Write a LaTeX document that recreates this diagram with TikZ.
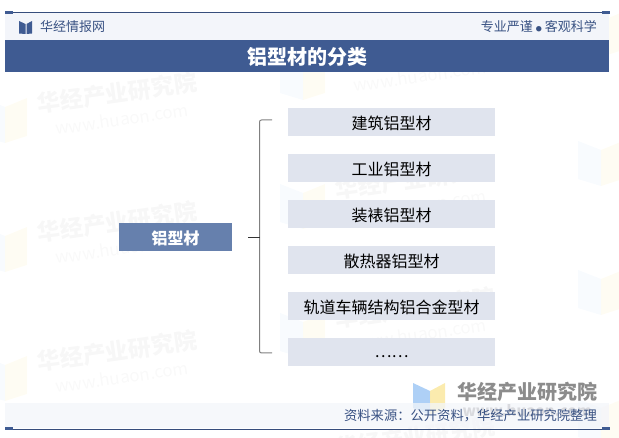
\documentclass[tikz,border=0pt]{standalone}
\usepackage{fontspec}
\setmainfont{Noto Sans CJK SC}
\usetikzlibrary{matrix,positioning}
\definecolor{azulfaixa}{RGB}{63,91,146}
\definecolor{azulbloco}{RGB}{102,128,173}
\definecolor{azulfundo}{RGB}{243,245,250}
\definecolor{cinzabloco}{RGB}{224,228,238}
\definecolor{azulmarca}{RGB}{160,200,245}
\definecolor{amarelomarca}{RGB}{250,232,160}
\tikzset{%
  filete/.style={draw=azulfaixa!85!black,semithick},
  pontafilete/.style={fill=azulfaixa,draw=none,minimum width=8pt,minimum height=3pt,inner sep=0pt},
  faixa/.style={fill=azulfundo,draw=none},
  titulo/.style={fill=azulfaixa,text=white,font=\fontsize{20}{22}\selectfont\bfseries,minimum width=604pt,minimum height=32pt,inner sep=0pt,text height=17pt,text depth=0pt},
  cabecalho/.style={text=azulfaixa!90!black,font=\fontsize{13}{15}\selectfont,inner sep=0pt},
  bloco/.style={fill=cinzabloco,text=black,font=\fontsize{16}{18}\selectfont,minimum width=207pt,minimum height=28pt,inner sep=0pt,text height=15pt,text depth=0pt},
  raiz/.style={fill=azulbloco,text=white,font=\fontsize{16}{18}\selectfont\bfseries,minimum width=113pt,minimum height=28pt,inner sep=0pt,text height=15pt,text depth=0pt},
  chave/.style={draw=black!50,line width=1pt,rounded corners=2pt},
  pontachave/.style={draw=black!80,semithick},
  marca/.pic={
    \fill[azulmarca,opacity=0.08] (-135,5) -- (-112,14) -- (-112,50) -- (-135,43) -- cycle;
    \fill[amarelomarca,opacity=0.12] (-112,14) -- (-90,5) -- (-90,43) -- (-112,50) -- cycle;
    \node[rotate=8,text=black,opacity=0.03,font=\fontsize{23}{25}\selectfont\bfseries,inner sep=0pt] at (0,0) {华经产业研究院};
    \node[rotate=8,text=black,opacity=0.025,font=\fontsize{17}{19}\selectfont,inner sep=0pt] at (5,26) {www.huaon.com};
  }
}
\begin{document}
\begin{tikzpicture}[x=1pt,y=-1pt]
  \useasboundingbox (0,0) rectangle (619,438);
  % marcas de fundo
  \foreach \px/\py in {117/93,117/222,117/351,415/50,415/179,415/308,415/437,713/7,713/136,713/265,713/394}
    \pic at (\px,\py) {marca};
  % topo
  \fill[faixa] (5,12) rectangle (609,40);
  \coordinate (filetea) at (5,12.5);
  \coordinate (fileteb) at (609,12.5);
  \draw[filete] (filetea) -- (fileteb);
  \node[pontafilete] at (9,12.5) (pontaa) {};
  \node[pontafilete] at (606,12.5) (pontab) {};
  \fill[azulfaixa] (19,21) -- (25.5,24) -- (25.5,34) -- (19,33.5) -- cycle;
  \fill[azulfaixa] (32,21) -- (26.5,24) -- (26.5,34) -- (32,33.5) -- cycle;
  \node[cabecalho,anchor=west] at (40,27) (site) {华经情报网};
  \node[cabecalho,anchor=east] at (597,27) (lema) {专业严谨\hspace{3pt}{\fontsize{6}{6}\selectfont ●}\hspace{3pt}客观科学};
  \node[titulo,anchor=north west] at (5,40) (cab) {铝型材的分类};
  % rodape
  \fill[azulmarca,opacity=0.85] (413,383) -- (430,391) -- (430,415) -- (413,408) -- cycle;
  \fill[amarelomarca,opacity=0.85] (430,391) -- (445,383) -- (445,408) -- (430,415) -- cycle;
  \node[text=black!45,font=\fontsize{20}{22}\selectfont\bfseries,inner sep=0pt,anchor=east] at (598,392) (marcanome) {华经产业研究院};
  \node[text=black!45,font=\fontsize{15}{17}\selectfont\bfseries,inner sep=0pt,anchor=east] at (592,411) (marcasite) {www.huaon.com};
  \fill[faixa,opacity=0.75] (5,403) rectangle (609,428);
  \node[cabecalho,anchor=east,font=\fontsize{13.3}{15}\selectfont] at (597,416) (fonte) {资料来源：公开资料，华经产业研究院整理};
  \coordinate (filetec) at (5,429);
  \coordinate (fileted) at (609,429);
  \draw[filete] (filetec) -- (fileted);
  \node[pontafilete] at (9,429) (pontac) {};
  \node[pontafilete] at (606,429) (pontad) {};
  % blocos
  \matrix (A) [matrix of nodes,row sep=18pt,inner sep=0pt,outer sep=0pt,anchor=north west,nodes={bloco}] at (288,108)
  {
    |(construcao)| 建筑铝型材 \\
    |(industria)| 工业铝型材 \\
    |(decoracao)| 装裱铝型材 \\
    |(dissipador)| 散热器铝型材 \\
    |(veiculo)| 轨道车辆结构铝合金型材 \\
    |[text height=11pt](outros)| …… \\
  };
  \node[raiz] at (175.5,237) (aluminio) {铝型材};
  \coordinate (chavea) at (272,120);
  \coordinate (chaveb) at (272,353);
  \coordinate (chavec) at (248,237);
  \coordinate (chaved) at (259.5,237);
  \draw[chave] (chavea) -| (chaved) |- (chaveb);
  \draw[pontachave] (chavec) -- (chaved);
\end{tikzpicture}
\end{document}
